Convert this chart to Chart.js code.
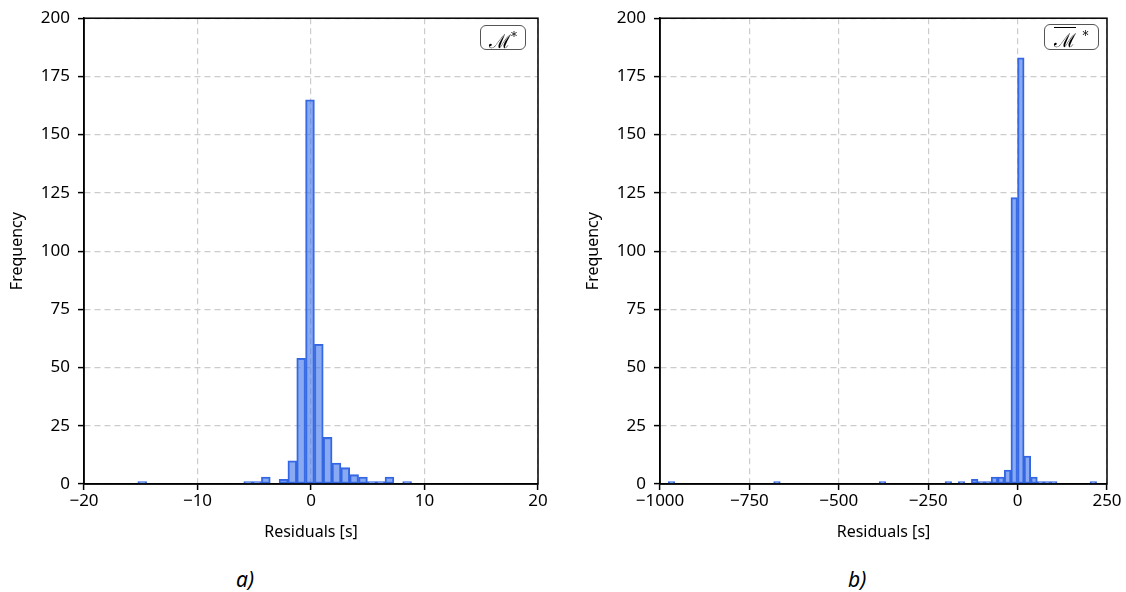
<!DOCTYPE html>
<html>
<head>
<meta charset="utf-8">
<script src="https://cdn.jsdelivr.net/npm/chart.js@4.4.0/dist/chart.umd.min.js"></script>
<style>
    body { margin: 0; background: #fff; width: 1126px; height: 592px; position: relative; overflow: hidden; font-family: 'Noto Sans', sans-serif; }
    .panel { position: absolute; top: 0; }
    .tag { position: absolute; top: 565px; font-style: italic; font-size: 21px; color: #000; }
    .mbox { position: absolute; box-sizing: border-box; border: 1.5px solid #555; border-radius: 6px; background: #fff;
            font-family: 'DejaVu Serif', serif; font-size: 19px; line-height: 23px; text-align: center; color: #000; }
    .mbox sup { font-size: 12px; vertical-align: 7px; }
    .bar { border-top: 1.2px solid #000; padding-top: 1px; }
</style>
</head>
<body>
<div class="panel" style="left:0px"><canvas id="histA" width="560" height="548"></canvas></div>
<div class="panel" style="left:576px"><canvas id="histB" width="550" height="548"></canvas></div>

<div class="mbox" style="left:480px; top:25px; width:46px; height:25px;">ℳ<sup>*</sup></div>
<div class="mbox" style="left:1044px; top:24px; width:55px; height:26px;"><span class="bar">ℳ</span> <sup>*</sup></div>

<div class="tag" style="left:236px">a)</div>
<div class="tag" style="left:848px">b)</div>

<script>
// Histogram a) : residuals of M*
const binStartA = -15.26;
const binWidthA = 0.778;
const countsA = [1, 0, 0, 0, 0, 0, 0, 0, 0, 0, 0, 0, 1, 1, 3, 0, 2, 10, 54, 165, 60, 20, 9, 7, 4, 3, 1, 1, 3, 0, 1];

// Histogram b) : residuals of M-bar*
const binStartB = -977;
const binWidthB = 18.43;
const countsB = [
    1, 0, 0, 0, 0, 0, 0, 0, 0, 0, 0, 0, 0, 0, 0, 0,
    1, 0, 0, 0, 0, 0, 0, 0, 0, 0, 0, 0, 0, 0, 0, 0,
    1, 0, 0, 0, 0, 0, 0, 0, 0, 0, 1, 0, 1, 0, 2, 1,
    1, 3, 3, 6, 123, 183, 12, 3, 1, 1, 1, 0, 0, 0, 0, 0,
    1
];

// Axis ticks
const yTicks = { min: 0, max: 200, step: 25 };
const xTicksA = { min: -20, max: 20, step: 10 };
const xTicksB = { min: -1000, max: 250, step: 250 };

const axisFont = { family: "'Noto Sans', sans-serif", size: 17 };
const titleFont = { family: "'Noto Sans', sans-serif", size: 16 };

// Draws the top/right spines so the plot is a closed box
const framePlugin = {
    id: 'frame',
    afterDraw(chart) {
        const a = chart.chartArea;
        const ctx = chart.ctx;
        ctx.save();
        ctx.strokeStyle = '#000';
        ctx.lineWidth = 1.5;
        ctx.strokeRect(a.left, a.top, a.right - a.left, a.bottom - a.top);
        ctx.restore();
    }
};

function binPoints(start, width, counts) {
    return counts.map((c, i) => ({ x: start + width * (i + 0.5), y: c }));
}

function minusLabel(v) {
    return v < 0 ? '\u2212' + Math.abs(v) : String(v);
}

function createHistogram(id, start, width, counts, xt, padRight) {
    const ctx = document.getElementById(id);
    return new Chart(ctx, {
        type: 'bar',
        data: {
            datasets: [{
                data: binPoints(start, width, counts),
                backgroundColor: 'rgba(70, 122, 236, 0.64)',
                borderColor: 'rgb(52, 102, 226)',
                borderWidth: 1.4,
                borderSkipped: false,
                categoryPercentage: 1.0,
                barPercentage: 1.0
            }]
        },
        options: {
            responsive: false,
            animation: false,
            layout: { padding: { top: 17, right: padRight, left: 0, bottom: 0 } },
            plugins: {
                legend: { display: false },
                tooltip: { enabled: false }
            },
            scales: {
                x: {
                    type: 'linear',
                    min: xt.min,
                    max: xt.max,
                    offset: false,
                    afterBuildTicks: (s) => {
                        s.ticks = [];
                        for (let v = xt.min; v <= xt.max; v += xt.step) s.ticks.push({ value: v });
                    },
                    afterFit: (s) => { s.height = 64; },
                    ticks: {
                        color: '#000',
                        font: axisFont,
                        padding: 1,
                        maxRotation: 0,
                        callback: (v) => minusLabel(v)
                    },
                    grid: {
                        offset: false,
                        color: '#cccccc',
                        lineWidth: 1.2,
                        tickLength: 6,
                        tickColor: '#000',
                        tickWidth: 1.5
                    },
                    border: { color: '#000', width: 1.5, dash: [6, 4] },
                    title: {
                        display: true,
                        text: 'Residuals [s]',
                        color: '#000',
                        font: titleFont,
                        padding: { top: 0, bottom: 6 }
                    }
                },
                y: {
                    min: yTicks.min,
                    max: yTicks.max,
                    afterFit: (s) => { s.width = 84; },
                    ticks: {
                        stepSize: yTicks.step,
                        color: '#000',
                        font: axisFont,
                        padding: 8
                    },
                    grid: {
                        color: '#cccccc',
                        lineWidth: 1.2,
                        tickLength: 6,
                        tickColor: '#000',
                        tickWidth: 1.5
                    },
                    border: { color: '#000', width: 1.5, dash: [6, 4] },
                    title: {
                        display: true,
                        text: 'Frequency',
                        color: '#000',
                        font: titleFont,
                        padding: { top: 8, bottom: 0 }
                    }
                }
            }
        },
        plugins: [framePlugin]
    });
}

document.addEventListener('DOMContentLoaded', function() {
    createHistogram('histA', binStartA, binWidthA, countsA, xTicksA, 22);
    createHistogram('histB', binStartB, binWidthB, countsB, xTicksB, 19);
});
</script>
</body>
</html>
